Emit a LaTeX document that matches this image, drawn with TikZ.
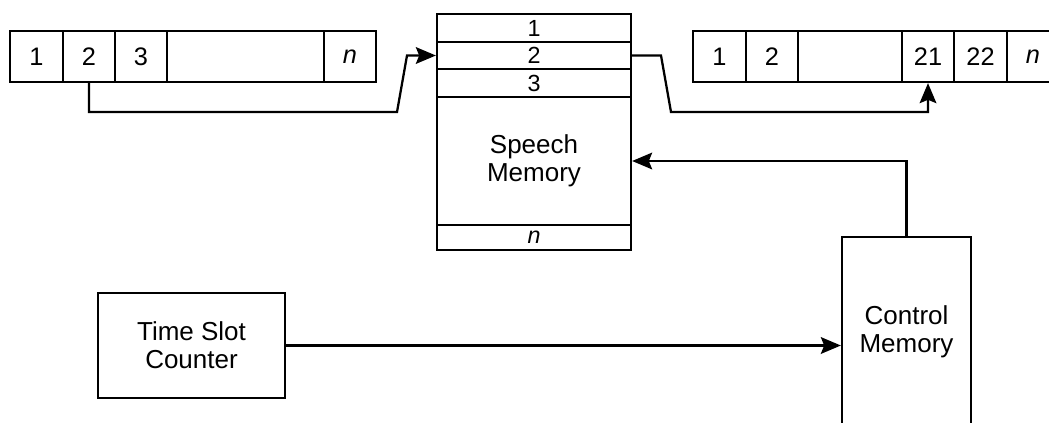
\documentclass[tikz,border=0pt]{standalone}
\usepackage{fontspec}
\setmainfont{Liberation Sans}
\usetikzlibrary{arrows.meta}
\begin{document}
\begin{tikzpicture}[x=0.75pt,y=-0.75pt,
  line width=1.7pt,
  cell/.style={draw, rectangle, inner sep=0pt, font=\fontsize{19}{21}\selectfont},
  row/.style={draw, rectangle, inner sep=0pt, minimum width=194*0.75pt, font=\fontsize{17.5}{19}\selectfont},
  blk/.style={draw, rectangle, inner sep=0pt, align=center, font=\fontsize{19.5}{21}\selectfont},
  conn/.style={line width=1.7pt, -{Stealth[length=15pt,width=12.5pt,inset=2.5pt]}},
]
\useasboundingbox (0,0) rectangle (1049,422);
% left frame
\node[cell, minimum width=53*0.75pt, minimum height=51*0.75pt] (l1) at (36.5,56.5) {1};
\node[cell, minimum width=52*0.75pt, minimum height=51*0.75pt] (l2) at (89,56.5) {2};
\node[cell, minimum width=52*0.75pt, minimum height=51*0.75pt] (l3) at (141,56.5) {3};
\node[cell, minimum width=157*0.75pt, minimum height=51*0.75pt] (l4) at (245.5,56.5) {};
\node[cell, minimum width=52*0.75pt, minimum height=51*0.75pt] (l5) at (350,56.5) {\itshape n};
% speech memory
\node[row, minimum height=28*0.75pt] (m1) at (534,28) {1};
\node[row, minimum height=27*0.75pt] (m2) at (534,55.5) {2};
\node[row, minimum height=28*0.75pt] (m3) at (534,83) {3};
\node[row, minimum height=128*0.75pt, align=center, font=\fontsize{19.5}{21}\selectfont] (m4) at (534,161) {Speech\\Memory};
\node[row, minimum height=25*0.75pt] (m5) at (534,237.5) {\itshape n};
% right frame
\node[cell, minimum width=53*0.75pt, minimum height=51*0.75pt] (r1) at (719.5,56.5) {1};
\node[cell, minimum width=52*0.75pt, minimum height=51*0.75pt] (r2) at (772,56.5) {2};
\node[cell, minimum width=104*0.75pt, minimum height=51*0.75pt] (r3) at (850,56.5) {};
\node[cell, minimum width=52*0.75pt, minimum height=51*0.75pt] (r4) at (928,56.5) {21};
\node[cell, minimum width=53*0.75pt, minimum height=51*0.75pt] (r5) at (980.5,56.5) {22};
\node[cell, minimum width=52*0.75pt, minimum height=51*0.75pt] (r6) at (1033,56.5) {\itshape n};
% blocks
\node[blk, minimum width=187*0.75pt, minimum height=105*0.75pt] (tsc) at (191.5,345.5) {Time Slot\\Counter};
\node[blk, minimum width=129*0.75pt, minimum height=190*0.75pt] (cm) at (906.5,332) {Control\\Memory};
% connectors
\draw[conn] (l2.south) -- (89,112) -- (397,112) -- (407,55.5) -- (m2.west);
\draw[conn] (m2.east) -- (661,55.5) -- (671,112) -- (928,112) -- (r4.south);
\draw[conn] (cm.north) -- (906.5,161) -- (m4.east);
\draw[conn] (tsc.east) -- (cm.west |- tsc.east);
\end{tikzpicture}
\end{document}
